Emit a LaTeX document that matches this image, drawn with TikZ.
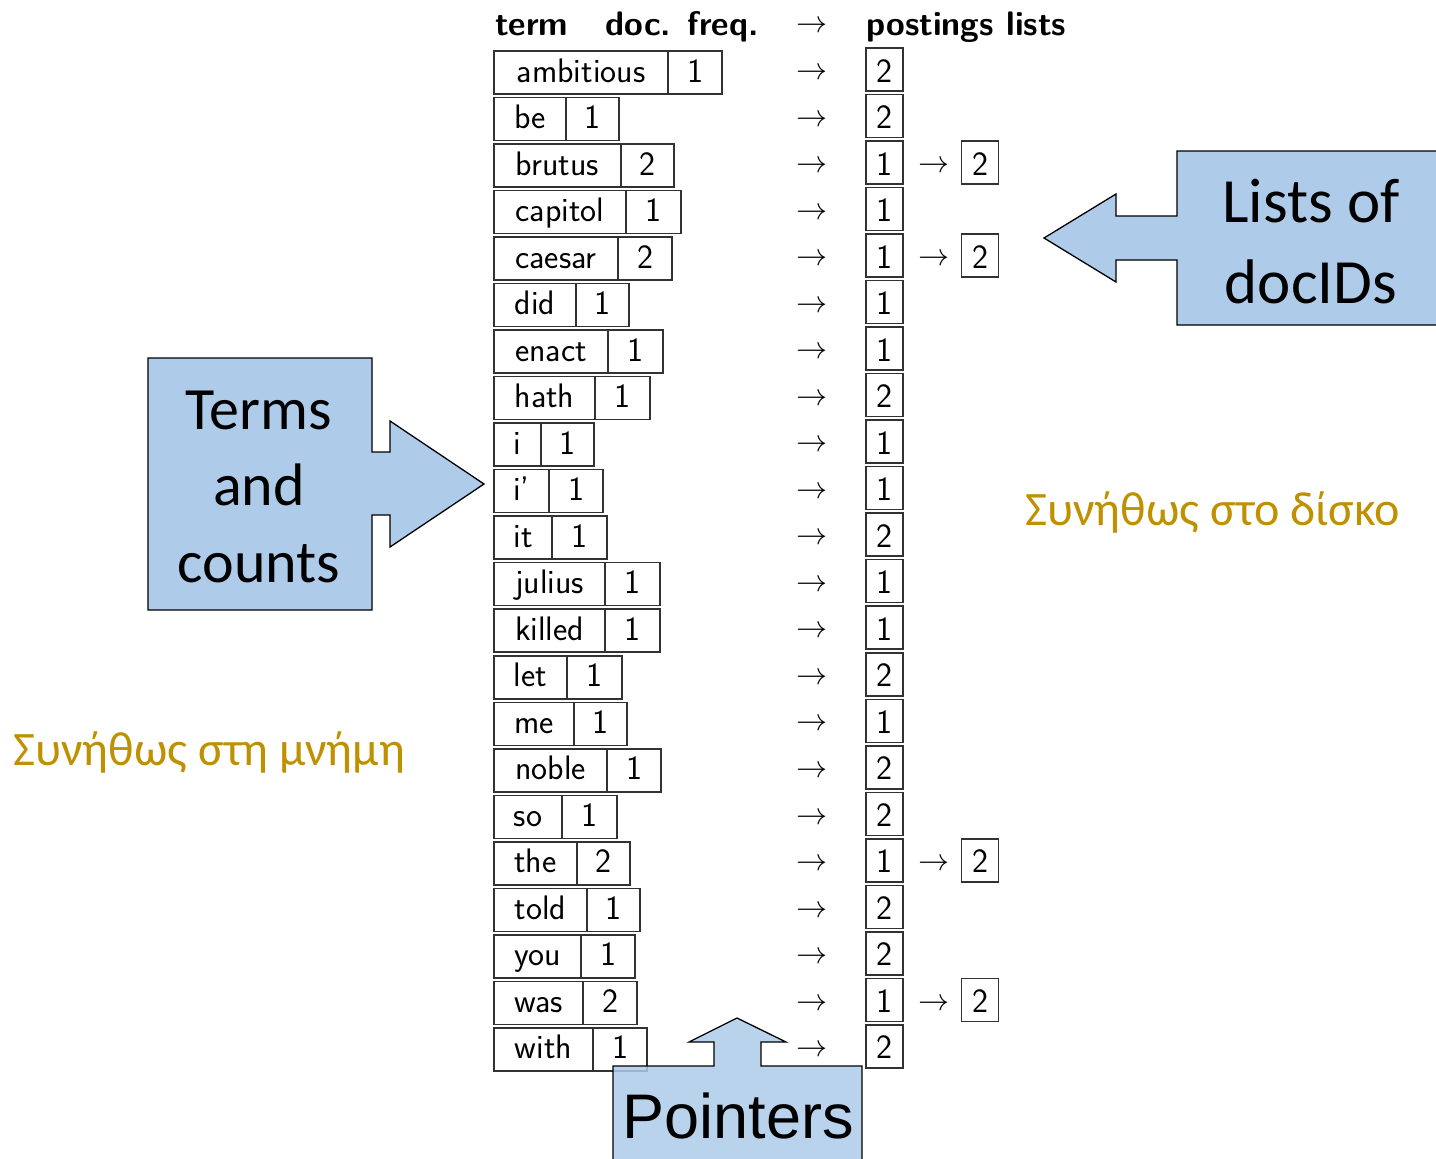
\documentclass[tikz,border=0pt]{standalone}
\usepackage{fontspec}
\usepackage{graphicx}
\newfontfamily\calibri{Carlito}
\newfontfamily\arialf{Liberation Sans}
\definecolor{callblue}{RGB}{174,203,233}
\definecolor{greekgold}{RGB}{191,144,0}
\definecolor{boxline}{RGB}{50,50,50}
\newcommand\bigarrow{\raisebox{2.3pt}{\scalebox{3.1}{\fontsize{10}{12}\selectfont$\rightarrow$}}}
\begin{document}
\begin{tikzpicture}[x=1pt,y=-1pt,
  tbl/.style={font=\sffamily\fontsize{34}{40}\selectfont},
  cell/.style={tbl, draw=boxline, line width=1.5pt, inner xsep=0pt, inner ysep=0pt, outer sep=0pt, text height=31pt, text depth=12pt, anchor=base west},
  post/.style={tbl, draw=boxline, line width=1.5pt, inner sep=0pt, outer sep=0pt, minimum width=37pt, text height=34pt, text depth=9pt, anchor=base},
  arr/.style={tbl, inner sep=0pt, anchor=base},
  hdr/.style={font=\sffamily\bfseries\fontsize{34}{40}\selectfont, inner sep=0pt, anchor=base west},
  callout/.style={fill=callblue, draw=black, line width=1.3pt, line join=miter},
  calltxt/.style={inner sep=0pt, anchor=base, text=black},
  greek/.style={font=\calibri\fontsize{48}{56}\selectfont, text=greekgold, inner sep=0pt, anchor=base west}
]
\useasboundingbox (0,0) rectangle (1436,1159);

% Terms and counts callout
\draw[callout] (148,358) -- (372,358) -- (372,452) -- (390,452) -- (390,421) -- (484,484) -- (390,547) -- (390,515) -- (372,515) -- (372,610) -- (148,610) -- cycle;
\node[calltxt, font=\calibri\fontsize{60}{72}\selectfont] (tc1) at (259,429) {Terms};
\node[calltxt, font=\calibri\fontsize{60}{72}\selectfont] (tc2) at (259,505) {and};
\node[calltxt, font=\calibri\fontsize{60}{72}\selectfont] (tc3) at (259,582) {counts};

% Lists of docIDs callout
\draw[callout] (1177,151) -- (1445,151) -- (1445,325) -- (1177,325) -- (1177,260) -- (1116,260) -- (1116,282) -- (1044,238) -- (1116,194) -- (1116,216) -- (1177,216) -- cycle;
\node[calltxt, font=\calibri\fontsize{63}{76}\selectfont] (ld1) at (1311,222) {Lists of};
\node[calltxt, font=\calibri\fontsize{63}{76}\selectfont] (ld2) at (1311,303) {docIDs};

% header
\node[hdr] (h1) at (495,35) {term};
\node[hdr] (h2) at (605,35) {doc. freq.};
\node[arr] (h3) at (812,35) {\bigarrow};
\node[hdr] (h4) at (866,35) {postings lists};

% table
\foreach \t/\d/\r/\f/\pa/\pb [count=\i from 0] in {
  ambitious/668/722/1/2/0, be/566/619/1/2/0, brutus/621/674/2/1/2,
  capitol/626/681/1/1/0, caesar/618/672/2/1/2, did/576/629/1/1/0,
  enact/608/663/1/1/0, hath/595/650/1/2/0, i/541/594/1/1/0,
  i’/549/603/1/1/0, it/552/607/1/2/0, julius/605/660/1/1/0,
  killed/605/660/1/1/0, let/567/622/1/2/0, me/574/627/1/1/0,
  noble/607/661/1/2/0, so/562/617/1/2/0, the/577/630/2/1/2,
  told/587/640/1/2/0, you/581/635/1/2/0, was/583/637/2/1/2,
  with/593/647/1/2/0}
{
  \pgfmathsetmacro\y{82+\i*46.52}
  \pgfmathsetmacro\wa{\d-494}
  \pgfmathsetmacro\wb{\r-\d}
  \node[cell, minimum width=\wa pt] (t\i) at (494,\y) {\t};
  \node[cell, minimum width=\wb pt] (f\i) at (\d,\y) {\f};
  \node[arr] (a\i) at (812,\y) {\bigarrow};
  \node[post] (p\i) at (884.5,\y) {\pa};
  \ifnum\pb>0
    \node[arr] (b\i) at (934,\y) {\bigarrow};
    \node[post] (q\i) at (980,\y) {\pb};
  \fi
}

% Pointers callout
\draw[callout, fill opacity=0.85] (613,1175) -- (613,1066) -- (714,1066) -- (714,1042) -- (689,1042) -- (737,1018) -- (786,1042) -- (761,1042) -- (761,1066) -- (862,1066) -- (862,1175) -- cycle;
\node[calltxt, font=\arialf\fontsize{63}{76}\selectfont] (pt) at (738,1138) {Pointers};

% Greek labels
\node[greek] (g1) at (1025,525) {Συνήθως στο δίσκο};
\node[greek] (g2) at (13,765) {Συνήθως στη μνήμη};
\end{tikzpicture}
\end{document}
